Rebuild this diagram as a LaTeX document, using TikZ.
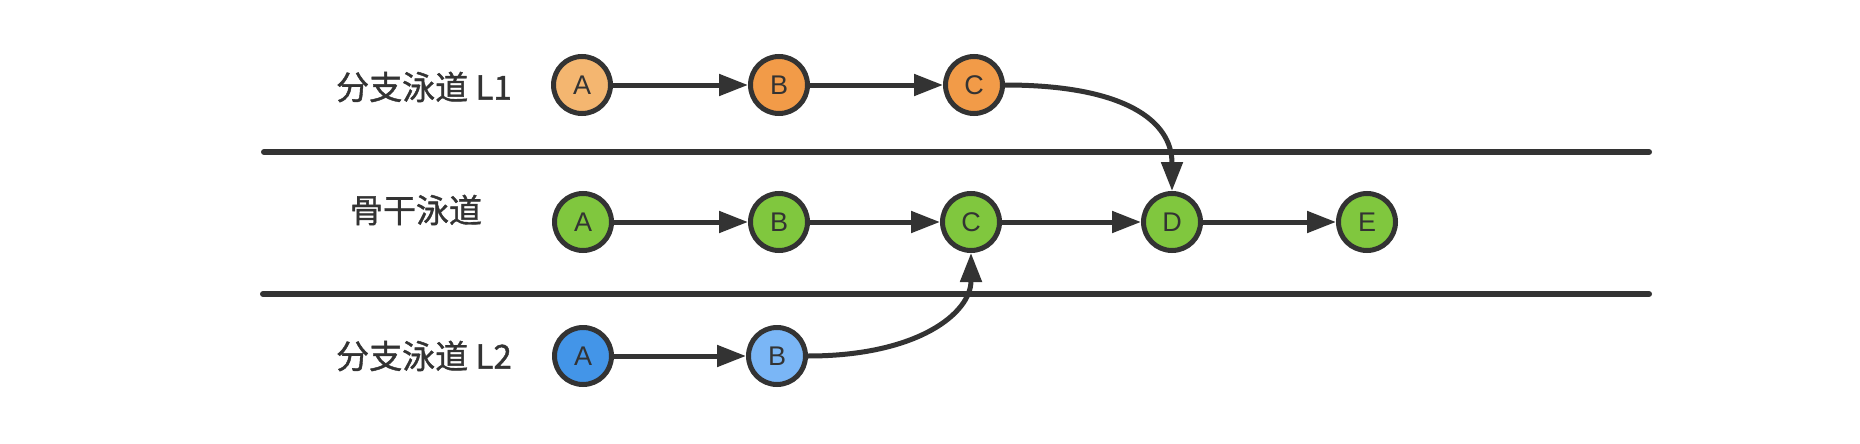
\documentclass[tikz,border=0pt]{standalone}
\usepackage{fontspec}
\setmainfont{Liberation Sans}
\newfontfamily\cjk[FakeBold=1.2]{Noto Sans CJK SC}
\usetikzlibrary{arrows.meta}
\definecolor{ink}{HTML}{333333}
\definecolor{orangeL}{HTML}{F4B670}
\definecolor{orangeD}{HTML}{F29B48}
\definecolor{greenC}{HTML}{80C73E}
\definecolor{blueD}{HTML}{4395E8}
\definecolor{blueL}{HTML}{7AB6F6}
\begin{document}
\begin{tikzpicture}[x=1pt,y=-1pt,
  commit/.style={circle, draw=ink, line width=5pt, minimum size=57pt, inner sep=0pt,
    font=\fontsize{27}{27}\selectfont, text=ink},
  link/.style={draw=ink, line width=5pt, -{Triangle[length=29pt,width=21pt]}},
  lane/.style={draw=ink, line width=6pt, line cap=round},
  lanelabel/.style={font=\cjk\fontsize{33}{33}\selectfont, text=ink}]
\useasboundingbox[fill=white] (0,0) rectangle (1860,444);

% lane separators
\coordinate (s1a) at (264,152);
\coordinate (s1b) at (1649,152);
\coordinate (s2a) at (263,294);
\coordinate (s2b) at (1649,294);
\draw[lane] (s1a) -- (s1b);
\draw[lane] (s2a) -- (s2b);

% labels
\node[lanelabel] (lab1) at (424,87) {分支泳道 L1};
\node[lanelabel] (lab2) at (416,210) {骨干泳道};
\node[lanelabel] (lab3) at (424,356) {分支泳道 L2};

% branch L1
\node[commit, fill=orangeL] (tA) at (582,85) {A};
\node[commit, fill=orangeD] (tB) at (779,85) {B};
\node[commit, fill=orangeD] (tC) at (974,85) {C};

% trunk
\node[commit, fill=greenC] (mA) at (583,222) {A};
\node[commit, fill=greenC] (mB) at (779,222) {B};
\node[commit, fill=greenC] (mC) at (971,222) {C};
\node[commit, fill=greenC] (mD) at (1172,222) {D};
\node[commit, fill=greenC] (mE) at (1367,222) {E};

% branch L2
\node[commit, fill=blueD] (bA) at (583,356) {A};
\node[commit, fill=blueL] (bB) at (777,356) {B};

% connectors
\draw[link] (tA) -- (tB);
\draw[link] (tB) -- (tC);
\draw[link] (mA) -- (mB);
\draw[link] (mB) -- (mC);
\draw[link] (mC) -- (mD);
\draw[link] (mD) -- (mE);
\draw[link] (bA) -- (bB);
\draw[link] (tC.east) .. controls +(120,0) and +(0,-70) .. (mD.north);
\draw[link] (bB.east) .. controls +(110,0) and +(0,60) .. (mC.south);
\end{tikzpicture}
\end{document}
